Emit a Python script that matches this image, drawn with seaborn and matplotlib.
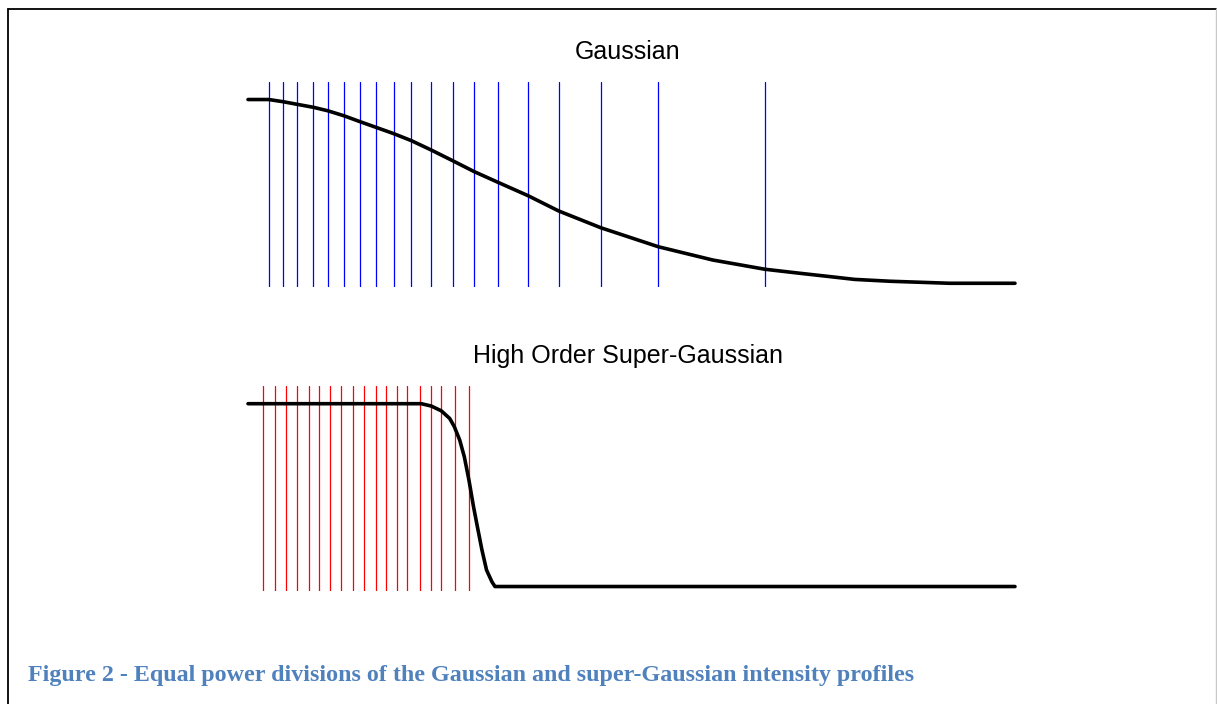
import matplotlib
matplotlib.use("Agg")
import matplotlib.pyplot as plt
from matplotlib.lines import Line2D
import seaborn as sns
import pandas as pd

# 1. DATA (radius normalised to the plotted width, intensity normalised to peak)
gauss_r = [0.0, 0.027, 0.046, 0.064, 0.085, 0.104, 0.125, 0.146, 0.167, 0.190,
           0.213, 0.239, 0.267, 0.295, 0.326, 0.365, 0.405, 0.460, 0.535, 0.606,
           0.674, 0.720, 0.759, 0.791, 0.837, 0.915, 1.0]
gauss_i = [1.0, 1.0, 0.988, 0.974, 0.958, 0.939, 0.912, 0.880, 0.849, 0.815,
           0.777, 0.726, 0.668, 0.609, 0.551, 0.479, 0.396, 0.305, 0.202, 0.130,
           0.080, 0.058, 0.040, 0.025, 0.015, 0.004, 0.004]
gauss_div = [0.027, 0.046, 0.064, 0.085, 0.104, 0.125, 0.146, 0.167, 0.190, 0.213,
             0.239, 0.267, 0.295, 0.326, 0.365, 0.405, 0.460, 0.535, 0.674]

sg_r = [0.0, 0.226, 0.239, 0.252, 0.263, 0.269, 0.276, 0.282, 0.288, 0.294,
        0.299, 0.305, 0.311, 0.318, 0.322, 1.0]
sg_i = [1.0, 1.0, 0.987, 0.961, 0.919, 0.874, 0.801, 0.710, 0.583, 0.437,
        0.328, 0.200, 0.090, 0.026, 0.0, 0.0]
sg_div = [0.020, 0.035, 0.050, 0.064, 0.080, 0.093, 0.107, 0.121, 0.137, 0.151,
          0.167, 0.180, 0.194, 0.207, 0.224, 0.239, 0.252, 0.270, 0.288]

TITLES = ["Gaussian", "High Order Super-Gaussian"]
CAPTION = "Figure 2 - Equal power divisions of the Gaussian and super-Gaussian intensity profiles"

# 2. FIGURE
sns.set_style("white")
fig = plt.figure(figsize=(12.17, 7.04), dpi=100)

ax_g = fig.add_axes([0.2038, 0.5923, 0.6302, 0.2912])
ax_s = fig.add_axes([0.2038, 0.1609, 0.6302, 0.2908])

# 3. PROFILES + EQUAL POWER DIVISIONS
panels = [
    (ax_g, gauss_r, gauss_i, gauss_div, "#0000ff", (-0.0163, 1.0949)),
    (ax_s, sg_r, sg_i, sg_div, "#ff0000", (-0.023, 1.0968)),
]
for ax, r, inten, divs, col, ylim in panels:
    for d in divs:
        ax.axvline(d, color=col, lw=0.9)
    df = pd.DataFrame({"r": r, "I": inten})
    sns.lineplot(data=df, x="r", y="I", ax=ax, color="black", lw=2.6,
                 sort=False, clip_on=False)
    ax.set_xlim(0, 1)
    ax.set_ylim(*ylim)
    ax.axis("off")

fig.text(0.516, 0.926, TITLES[0], ha="center", va="center", color="black",
         fontsize=18, family="Liberation Sans")
fig.text(0.516, 0.4943, TITLES[1], ha="center", va="center", color="black",
         fontsize=18, family="Liberation Sans")

fig.text(0.023, 0.0398, CAPTION, ha="left", va="center", fontsize=17.3,
         fontweight="bold", family="Liberation Serif", color="#4f81bd")

# 4. FRAME round the figure (top and left black, right edge grey)
fig.add_artist(Line2D([8 / 1217, 1216 / 1217], [1 - 9 / 704, 1 - 9 / 704],
                      transform=fig.transFigure, color="black", lw=1.3))
fig.add_artist(Line2D([8 / 1217, 8 / 1217], [0, 1 - 9 / 704],
                      transform=fig.transFigure, color="black", lw=1.3))
fig.add_artist(Line2D([1216 / 1217, 1216 / 1217], [0, 1 - 9 / 704],
                      transform=fig.transFigure, color="#c8c8c8", lw=1.0))

fig.savefig("out.png", dpi=100)
